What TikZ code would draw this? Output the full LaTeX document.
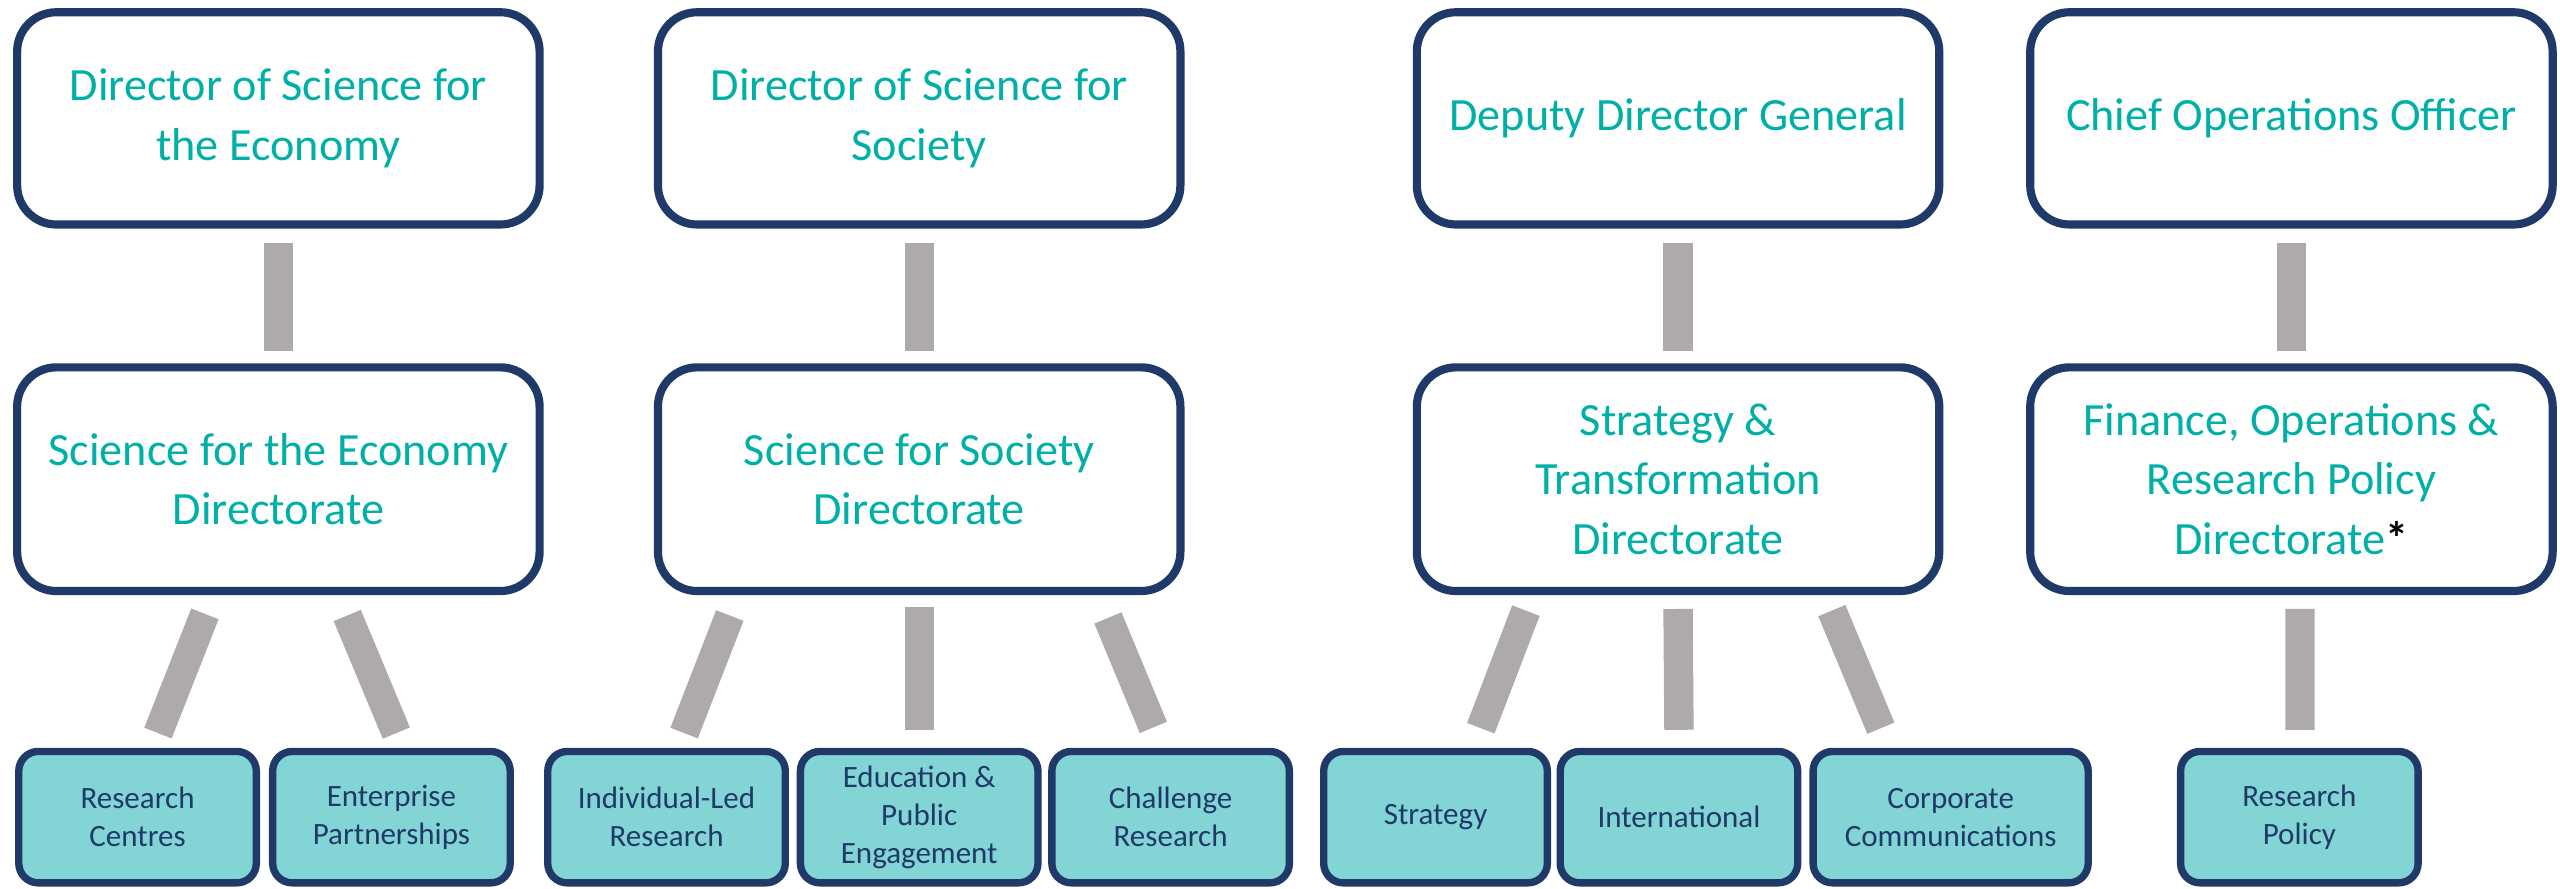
\documentclass[tikz,border=0pt]{standalone}
\usepackage{fontspec}
\setmainfont{Carlito}
\usepackage{xcolor}
\usepackage{tikz}
\usetikzlibrary{positioning}

\definecolor{navy}{HTML}{1F3A68}
\definecolor{textteal}{HTML}{00B0A6}
\definecolor{teamfill}{HTML}{83D5D5}
\definecolor{linkgray}{HTML}{ADAAA9}

\begin{document}
\begin{tikzpicture}[x=1pt, y=-1pt,
	box/.style={draw=navy, line width=5pt, rounded corners=24pt, fill=white, text=textteal, align=center, inner sep=0pt, minimum width=320pt, font=\fontsize{28.3}{36.5}\selectfont},
	head/.style={box, minimum height=130pt},
	unit/.style={box, minimum height=137pt},
	team/.style={draw=navy, line width=4.5pt, rounded corners=12pt, fill=teamfill, text=navy, align=center, inner sep=0pt, minimum width=145.5pt, minimum height=80.5pt, font=\fontsize{19}{23.4}\selectfont},
	link/.style={draw=linkgray, line width=18pt}]
	\useasboundingbox (0,0) rectangle (1568,544);
	
	% directors
	\node [head] (topA) at (170.5,72.5) {Director of Science for\\ the Economy};
	\node [head] (topB) at (563,72.5) {Director of Science for\\ Society};
	\node [head] (topC) at (1027.8,72.5) {Deputy Director General};
	\node [head] (topD) at (1403.5,72.5) {Chief Operations Officer};
	
	% directorates
	\node [unit] (midA) at (170.5,293.5) {Science for the Economy\\ Directorate};
	\node [unit] (midB) at (563,293.5) {Science for Society\\ Directorate};
	\node [unit] (midC) at (1027.8,293.5) {Strategy \&\\ Transformation\\ Directorate};
	\node [unit] (midD) at (1403.5,293.5) {Finance, Operations \&\\ Research Policy\\ Directorate{\bfseries\color{black}*}};
	
	% teams
	\node [team] (rc) at (84.25,500.5) {Research\\ Centres};
	\node [team] (ep) at (239.75,500.5) {Enterprise\\ Partnerships};
	\node [team] (il) at (408.25,500.5) {Individual-Led\\ Research};
	\node [team] (edu) at (563,500.5) {Education \&\\ Public\\ Engagement};
	\node [team] (chal) at (717,500.5) {Challenge\\ Research};
	\node [team, minimum width=137pt] (strat) at (879.25,500.5) {Strategy};
	\node [team] (intl) at (1028.35,500.5) {International};
	\node [team, minimum width=168.5pt] (corp) at (1194.75,500.5) {Corporate\\ Communications};
	\node [team] (rp) at (1408.35,500.5) {Research\\ Policy};
	
	\draw [link, shorten <=9pt, shorten >=7.5pt] (topA) -- (midA);
	\draw [link, shorten <=9pt, shorten >=7.5pt] (topB) -- (midB);
	\draw [link, shorten <=9pt, shorten >=7.5pt] (topC) -- (midC);
	\draw [link, shorten <=9pt, shorten >=7.5pt] (topD) -- (midD);
	
	\draw [link] ([shift={(-45,11.5)}]midA.south) -- ([shift={(12.5,-9)}]rc.north);
	\draw [link] ([shift={(42.2,12.5)}]midA.south) -- ([shift={(3,-9)}]ep.north);
	\draw [link] ([shift={(-116,12.5)}]midB.south) -- ([shift={(10.75,-9)}]il.north);
	\draw [link] ([shift={(0,7.5)}]midB.south) -- ([shift={(0,-11)}]edu.north);
	\draw [link] ([shift={(115.6,14)}]midB.south) -- ([shift={(-10.6,-12.5)}]chal.north);
	\draw [link] ([shift={(-93.2,9.5)}]midC.south) -- ([shift={(27.75,-12)}]strat.north);
	\draw [link] ([shift={(0,8.5)}]midC.south) -- ([shift={(0,-11)}]intl.north);
	\draw [link] ([shift={(94.2,9.5)}]midC.south) -- ([shift={(-42.75,-12)}]corp.north);
	\draw [link] ([shift={(5.2,8.5)}]midD.south) -- ([shift={(0.35,-11)}]rp.north);
\end{tikzpicture}
\end{document}
